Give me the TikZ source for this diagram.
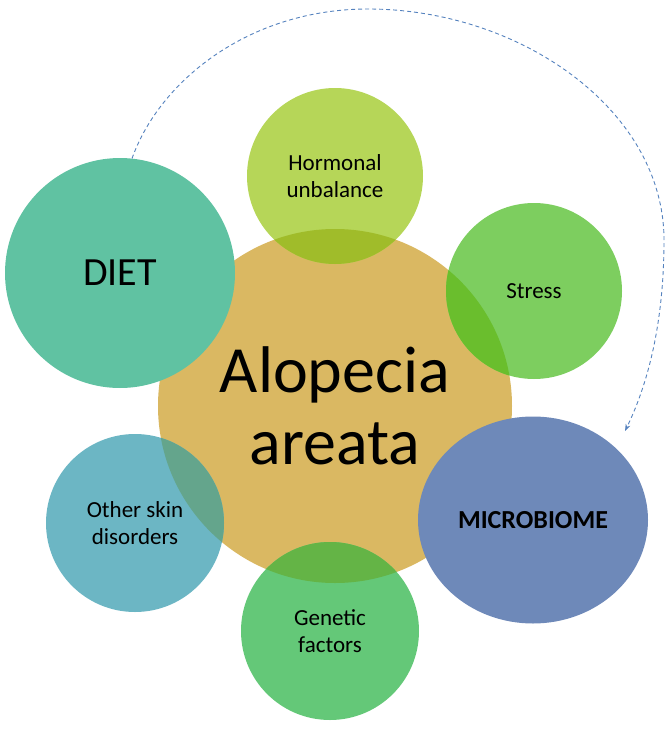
\documentclass[tikz,border=0pt]{standalone}
\usepackage{fontspec}
\setmainfont{Carlito}
\usetikzlibrary{shapes.geometric,arrows.meta}
\definecolor{goldc}{RGB}{218,184,98}
\definecolor{dietc}{RGB}{96,194,162}
\definecolor{hormc}{RGB}{182,214,88}
\definecolor{hormov}{RGB}{160,188,42}
\definecolor{stressc}{RGB}{125,206,95}
\definecolor{stressov}{RGB}{106,190,45}
\definecolor{microc}{RGB}{110,137,185}
\definecolor{genc}{RGB}{100,200,120}
\definecolor{genov}{RGB}{100,180,70}
\definecolor{skinc}{RGB}{108,182,196}
\definecolor{skinov}{RGB}{100,165,140}
\definecolor{arrowc}{RGB}{85,130,190}
\begin{document}
\begin{tikzpicture}[x=1pt,y=-1pt,
  sat/.style={circle, inner sep=0pt, align=center, text=black,
    minimum size=#1, font=\fontsize{23}{27}\selectfont},
  ovl/.style={path picture={\fill[#1] (ctr.center) circle[radius=177pt];}},
  loop/.style={draw=arrowc, line width=0.9pt, dash pattern=on 4pt off 3pt,
    -{Stealth[length=7pt,width=5pt]}}]
\useasboundingbox (0,0) rectangle (670,731);
% centre
\node[circle, fill=goldc, minimum size=354pt, inner sep=0pt, align=center,
  text=black, font=\fontsize{66}{72}\selectfont] (ctr) at (335,406)
  {Alopecia\\areata};
% satellites
\node[sat=230pt, fill=dietc, font=\fontsize{40}{48}\selectfont] (diet) at (120,273) {DIET};
\node[sat=176pt, fill=hormc, ovl=hormov] (horm) at (335,176) {Hormonal\\unbalance};
\node[sat=176pt, fill=stressc, ovl=stressov] (stress) at (534,291) {Stress};
\node[ellipse, inner sep=0pt, minimum width=230pt, minimum height=207pt,
  fill=microc, text=black, font=\fontsize{26}{30}\selectfont\bfseries] (micro) at (533,520) {MICROBIOME};
\node[sat=178pt, fill=genc, ovl=genov] (gen) at (330,631) {Genetic\\factors};
\node[sat=178pt, fill=skinc, ovl=skinov] (skin) at (135,523) {Other skin\\disorders};
% dashed loop arrow
\coordinate (atop) at (368,9);
\coordinate (aright) at (664,240);
\coordinate (aend) at (625,431);
\draw[loop] (diet.84) .. controls (160,80) and (250,9) .. (atop)
  .. controls (520,9) and (664,110) .. (aright)
  .. controls (664,330) and (645,390) .. (aend);
\end{tikzpicture}
\end{document}
